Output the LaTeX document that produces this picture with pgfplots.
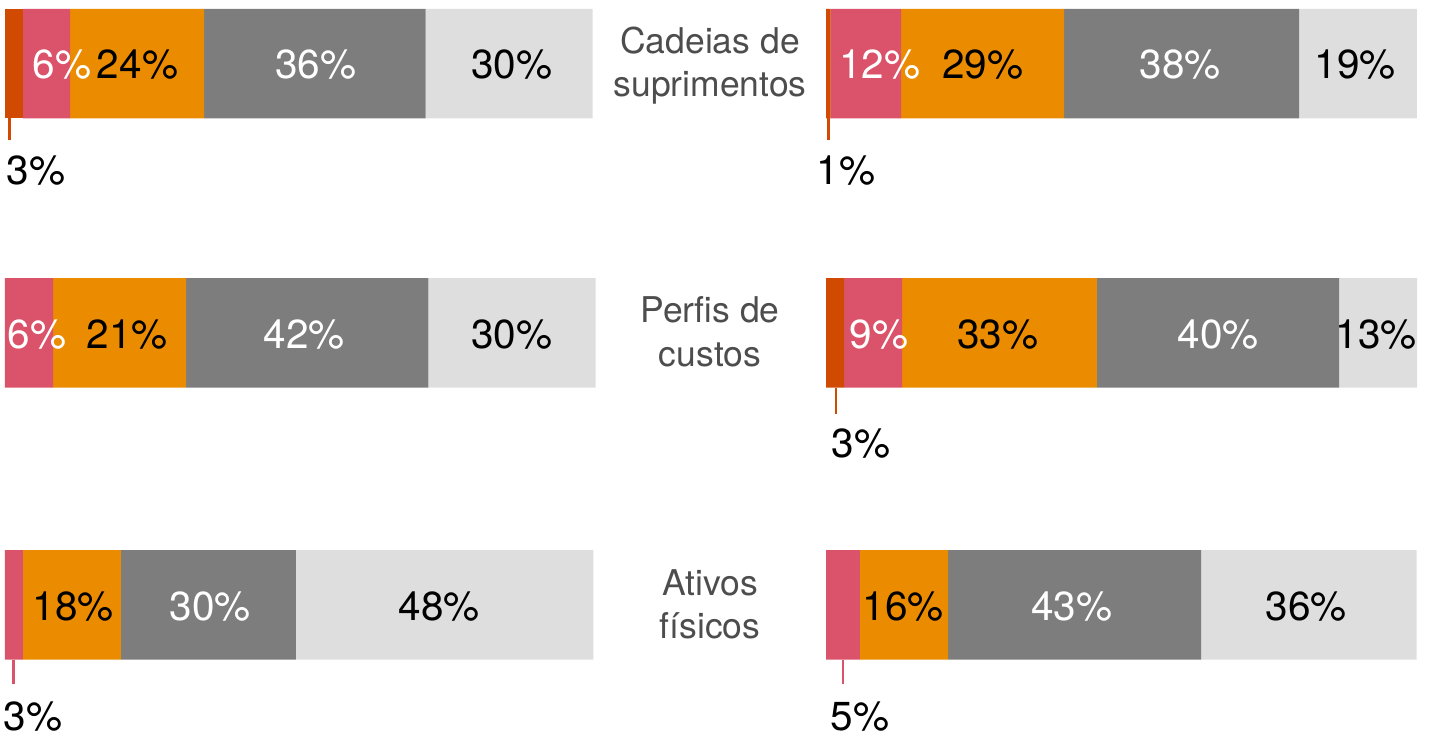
\documentclass[border=0pt]{standalone}
\usepackage{fontspec}
\setmainfont{TeX Gyre Heros}
\usepackage{pgfplots}
\pgfplotsset{compat=1.18}
\definecolor{cDark}{HTML}{D04A02}
\definecolor{cPink}{HTML}{DB536A}
\definecolor{cOrange}{HTML}{EB8C00}
\definecolor{cGrey}{HTML}{7D7D7D}
\definecolor{cLight}{HTML}{DEDEDE}
\definecolor{cText}{HTML}{4D4D4D}
\newcommand{\lbl}{\fontsize{40.5}{48}\selectfont}
\newcommand{\cat}{\fontsize{35.5}{43}\selectfont}
\pgfplotsset{
  panel/.style={anchor=south west, width=590pt, height=737pt, scale only axis,
    xmin=0, xmax=100, ymin=0, ymax=737, hide axis, clip=false},
  bars/.style={panel, xbar stacked, bar width=109.5},
  lab/.style={draw=none, mark=none, nodes near coords, point meta=explicit symbolic,
    nodes near coords style={anchor=center, inner sep=0pt, font=\lbl, text=#1}},
  low/.style={draw=none, mark=none, nodes near coords, point meta=explicit symbolic,
    nodes near coords style={anchor=base west, inner sep=0pt, font=\lbl, text=black}},
}
\begin{document}
\begin{tikzpicture}
\useasboundingbox (0,0) rectangle (1430pt,737pt);
% ---------------- left panel bars
\begin{axis}[bars, at={(5pt,0pt)}]
\addplot[fill=cDark, draw=none] coordinates {(3.05,673.3) (0,404.1) (0,132.1)};
\addplot[fill=cPink, draw=none] coordinates {(7.97,673.3) (8.14,404.1) (3.05,132.1)};
\addplot[fill=cOrange, draw=none] coordinates {(22.71,673.3) (22.54,404.1) (16.61,132.1)};
\addplot[fill=cGrey, draw=none] coordinates {(37.58,673.3) (41.07,404.1) (29.66,132.1)};
\addplot[fill=cLight, draw=none] coordinates {(28.30,673.3) (28.37,404.1) (50.39,132.1)};
\end{axis}
% ---------------- left panel labels
\begin{axis}[panel, at={(5pt,0pt)}]
\addplot[lab=white] table[meta=lab] {
x y lab
9.66 672 6\%
52.7 672 36\%
5.42 402.8 6\%
50.68 402.8 42\%
34.75 130.8 30\%
};
\addplot[lab=black] table[meta=lab] {
x y lab
22.46 672 24\%
85.93 672 30\%
20.68 402.8 21\%
85.93 402.8 30\%
11.53 130.8 18\%
73.56 130.8 48\%
};
\addplot[cDark, line width=2.5pt] coordinates {(0.76,618.7) (0.76,597)};
\addplot[cPink, line width=2.5pt] coordinates {(1.47,77) (1.47,53)};
\addplot[low] table[meta=lab] {
x y lab
0.25 552 3\%
-0.25 7 3\%
};
\end{axis}
% ---------------- right panel bars
\begin{axis}[bars, at={(826pt,0pt)}]
\addplot[fill=cDark, draw=none] coordinates {(0.80,673.3) (3.05,404.1) (0,132.1)};
\addplot[fill=cPink, draw=none] coordinates {(11.92,673.3) (9.83,404.1) (5.76,132.1)};
\addplot[fill=cOrange, draw=none] coordinates {(27.63,673.3) (33.05,404.1) (14.92,132.1)};
\addplot[fill=cGrey, draw=none] coordinates {(39.83,673.3) (41.02,404.1) (42.88,132.1)};
\addplot[fill=cLight, draw=none] coordinates {(19.95,673.3) (13.22,404.1) (36.56,132.1)};
\end{axis}
% ---------------- right panel labels
\begin{axis}[panel, at={(826pt,0pt)}]
\addplot[lab=white] table[meta=lab] {
x y lab
9.15 672 12\%
60.0 672 38\%
8.98 402.8 9\%
66.44 402.8 40\%
41.69 130.8 43\%
};
\addplot[lab=black] table[meta=lab] {
x y lab
26.53 672 29\%
89.66 672 19\%
29.15 402.8 33\%
93.22 402.8 13\%
13.05 130.8 16\%
81.36 130.8 36\%
};
\addplot[cDark, line width=2.5pt] coordinates {(0.46,618.7) (0.46,597)};
\addplot[cDark, line width=2.5pt] coordinates {(1.69,349) (1.69,323)};
\addplot[cPink, line width=2.5pt] coordinates {(2.88,77) (2.88,53)};
\addplot[low] table[meta=lab] {
x y lab
-1.59 552 1\%
0.93 279 3\%
0.76 7 5\%
};
\end{axis}
% ---------------- category labels
\begin{scope}[every node/.style={anchor=base, font=\cat, text=cText, inner sep=0pt}]
\node at (710pt,683.7pt) {Cadeias de};
\node at (710pt,640.3pt) {suprimentos};
\node at (710pt,414pt) {Perfis de};
\node at (710pt,370.6pt) {custos};
\node at (710pt,142pt) {Ativos};
\node at (710pt,98.6pt) {físicos};
\end{scope}
\end{tikzpicture}
\end{document}
